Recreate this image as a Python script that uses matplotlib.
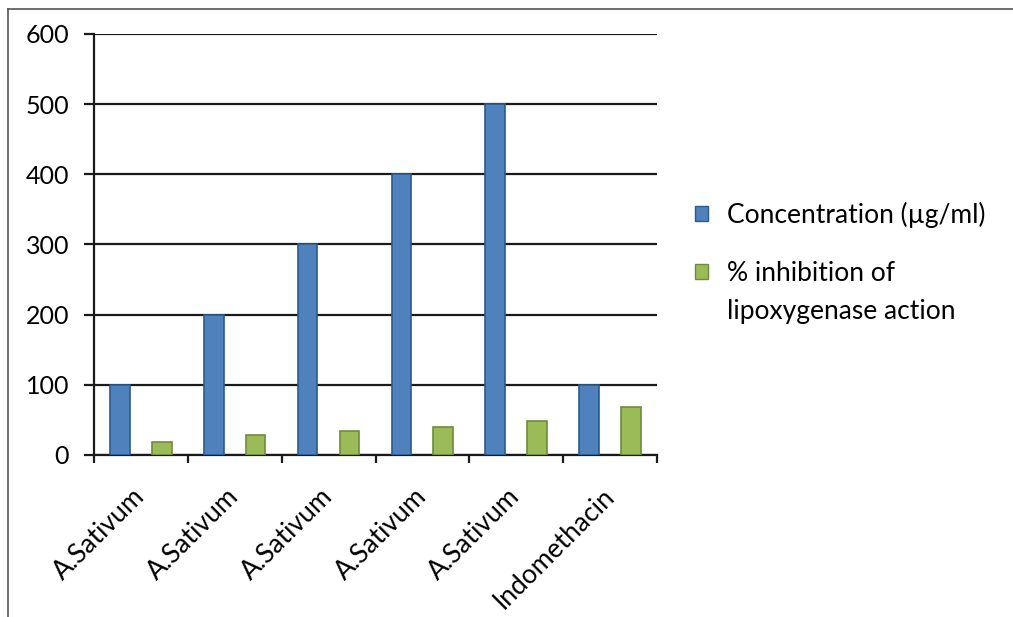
import matplotlib.pyplot as plt
import numpy as np
from matplotlib.lines import Line2D
from matplotlib.patches import Patch

categories = ['A.Sativum', 'A.Sativum', 'A.Sativum', 'A.Sativum', 'A.Sativum', 'Indomethacin']
concentration = [100, 200, 300, 400, 500, 100]
inhibition = [18, 28, 34, 40, 48, 69]
series_names = ['Concentration (µg/ml)', '% inhibition of', 'lipoxygenase action']

plt.rcParams['font.family'] = ['Lato', 'DejaVu Sans']

fig = plt.figure(figsize=(10.13, 6.17), dpi=100)
ax = fig.add_axes([0.0928, 0.2626, 0.5558, 0.6823])

x = np.arange(len(categories))
w = 0.21
ax.bar(x - 0.224, concentration, w, color='#4F81BD', edgecolor='#2C5A8E', linewidth=1.2, zorder=3)
ax.bar(x + 0.222, inhibition, w, color='#9BBB59', edgecolor='#6E8C3A', linewidth=1.2, zorder=3)

ax.set_xlim(-0.5, len(categories) - 0.5)
ax.set_ylim(0, 600)
ax.set_yticks(range(0, 601, 100))
ax.yaxis.grid(True, color='#1a1a1a', linewidth=1.6, zorder=1)
ax.set_axisbelow(True)

for s in ['top', 'right']:
    ax.spines[s].set_visible(False)
for s in ['left', 'bottom']:
    ax.spines[s].set_color('#1a1a1a')
    ax.spines[s].set_linewidth(1.6)

ax.set_xticks(np.arange(-0.5, len(categories), 1.0))
ax.set_xticklabels([])
ax.set_xticks(x, minor=True)
ax.set_xticklabels(categories, minor=True, rotation=45, ha='right', va='center',
                   rotation_mode='anchor', fontsize=19)
ax.tick_params(axis='x', which='minor', length=0, pad=27)
ax.tick_params(axis='x', which='major', length=6, width=1.6, color='#1a1a1a')
ax.tick_params(axis='y', length=7, width=1.6, color='#1a1a1a', labelsize=18, pad=11)

handles = [Patch(facecolor='#4F81BD', edgecolor='#2C5A8E'),
           Patch(facecolor='#9BBB59', edgecolor='#6E8C3A')]
leg = fig.legend(handles, series_names[:2], loc='upper left', bbox_to_anchor=(0.686, 0.673),
                 frameon=False, fontsize=19, handlelength=0.5, handleheight=0.5,
                 handletextpad=0.7, labelspacing=1.25, borderpad=0, borderaxespad=0)

# second line of the green legend label, under the first one
fig.canvas.draw()
bb = leg.get_texts()[1].get_window_extent().transformed(fig.transFigure.inverted())
fig.text(bb.x0, bb.y0 - 38 / 617, series_names[2], fontsize=19, ha='left', va='bottom')

# frame around the picture (left and top only)
fig.add_artist(Line2D([0.008, 0.008], [0.0, 0.986], color='#555555', linewidth=1.2))
fig.add_artist(Line2D([0.008, 1.0], [0.986, 0.986], color='#555555', linewidth=1.2))

fig.savefig('out.png', dpi=100)
